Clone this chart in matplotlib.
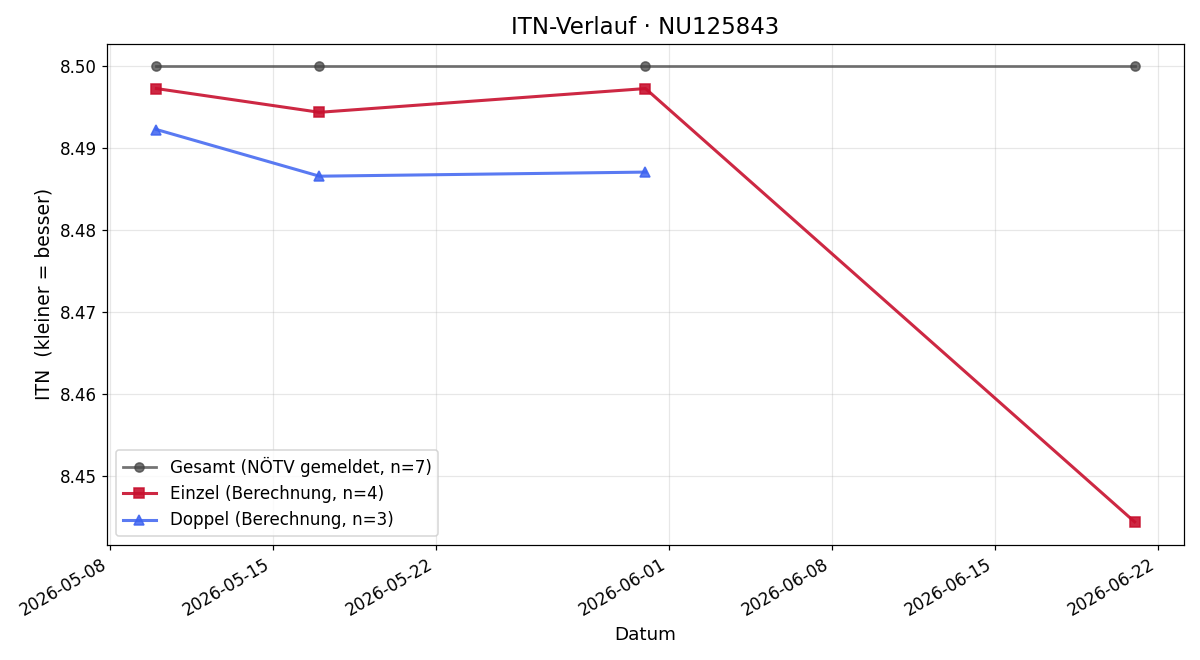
import matplotlib
matplotlib.use("Agg")
import matplotlib.pyplot as plt
import matplotlib.dates as mdates
import pandas as pd

gesamt_dates = ["2026-05-10", "2026-05-17", "2026-05-31", "2026-06-21"]
gesamt_vals = [8.50, 8.50, 8.50, 8.50]
einzel_dates = ["2026-05-10", "2026-05-17", "2026-05-31", "2026-06-21"]
einzel_vals = [8.4973, 8.4944, 8.4973, 8.4444]
doppel_dates = ["2026-05-10", "2026-05-17", "2026-05-31"]
doppel_vals = [8.4923, 8.4866, 8.4871]

fig, ax = plt.subplots(figsize=(1200 / 110, 660 / 110), dpi=110)
ax.plot(pd.to_datetime(gesamt_dates), gesamt_vals, marker="o", color="#444444", alpha=0.75,
        linewidth=1.8, markersize=6, label="Gesamt (NÖTV gemeldet, n=7)")
ax.plot(pd.to_datetime(einzel_dates), einzel_vals, marker="s", color="#c8102e", alpha=0.9,
        linewidth=2, markersize=6.5, label="Einzel (Berechnung, n=4)")
ax.plot(pd.to_datetime(doppel_dates), doppel_vals, marker="^", color="#3d63f0", alpha=0.85,
        linewidth=2, markersize=6.5, label="Doppel (Berechnung, n=3)")

ax.set_title("ITN-Verlauf · NU125843", fontsize=15)
ax.set_xlabel("Datum", fontsize=12)
ax.set_ylabel("ITN  (kleiner = besser)", fontsize=12.3)
ax.grid(True, alpha=0.3)
ax.xaxis.set_major_locator(mdates.AutoDateLocator())
ax.xaxis.set_major_formatter(mdates.DateFormatter("%Y-%m-%d"))
ax.yaxis.set_major_formatter(matplotlib.ticker.FormatStrFormatter("%.2f"))
ax.tick_params(labelsize=11)
ax.legend(loc="lower left", fontsize=11)
fig.autofmt_xdate()
fig.tight_layout()
fig.savefig("out.png")
